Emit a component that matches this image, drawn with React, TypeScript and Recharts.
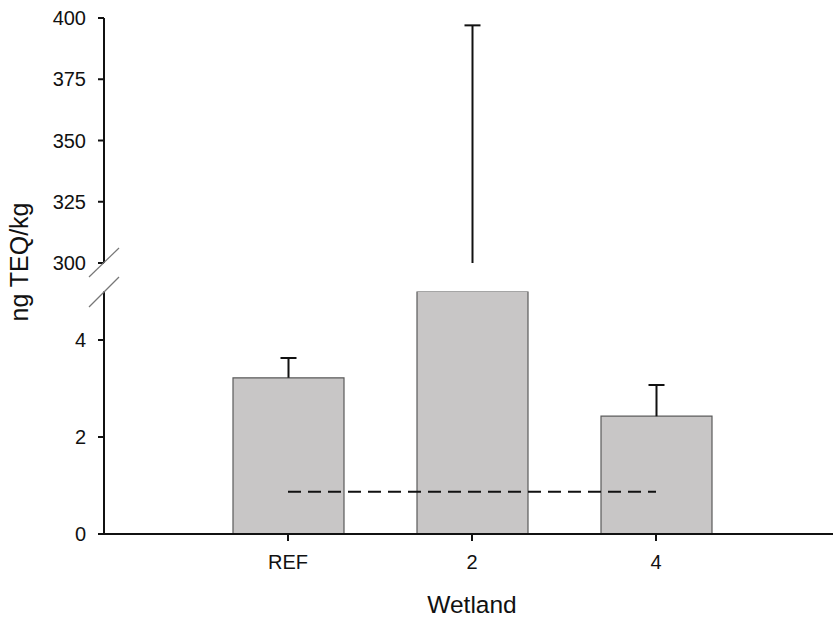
import React from "react";
import { ComposedChart, Bar, XAxis, YAxis, ReferenceLine } from "recharts";

// wetland TEQ means and standard deviations (ng TEQ/kg)
const wetlands = ["REF", "2", "4"];
const teqMean = [3.22, 150, 2.43];
const teqSd = [0.41, 247, 0.64];
const guideline = 0.87;

// broken y axis: lower and upper panels
const lowerDomain = [0, 5];
const upperDomain = [300, 400];
const lowerTicks = [0, 2, 4];
const upperTicks = [300, 325, 350, 375, 400];

const W = 833;
const H = 620;
const font = "'Liberation Sans', Arial, sans-serif";
const ink = "#111";

const data = wetlands.map((name, i) => {
  const top = teqMean[i] + teqSd[i];
  return {
    name,
    mean: teqMean[i],
    lowErr: top <= lowerDomain[1] ? teqSd[i] : null,
    highErr: top > upperDomain[0] ? [Math.max(teqMean[i], upperDomain[0]), top] : null,
  };
});

const Whisker = (props: any) => {
  const { x, y, width, height } = props;
  if (!height || height <= 0 || isNaN(y)) return null;
  const cx = x + width / 2;
  return (
    <g stroke={ink} strokeWidth={2}>
      <line x1={cx} y1={y} x2={cx} y2={y + height} />
      <line x1={cx - 8} y1={y} x2={cx + 8} y2={y} />
    </g>
  );
};

const tickStyle = { fill: ink, fontSize: 20, fontFamily: font };
const lineStyle = { stroke: ink, strokeWidth: 2 };
const xPad = { left: 92, right: 85 };

export default function App() {
  return (
    <div style={{ position: "absolute", left: 0, top: 0, width: W, height: H, background: "#fff", fontFamily: font }}>
      {/* lower panel 0..5 */}
      <div style={{ position: "absolute", left: 0, top: 0 }}>
        <ComposedChart width={W} height={H} data={data} barSize={111} margin={{ top: 291.5, right: 0, bottom: 0, left: 0 }}>
          <XAxis
            dataKey="name"
            padding={xPad}
            height={86}
            tickSize={7}
            tickMargin={14}
            tick={tickStyle}
            axisLine={lineStyle}
            tickLine={lineStyle}
          />
          <YAxis
            domain={lowerDomain}
            ticks={lowerTicks}
            allowDataOverflow
            width={104}
            tickSize={6}
            tickMargin={12}
            tick={tickStyle}
            axisLine={lineStyle}
            tickLine={lineStyle}
          />
          <Bar dataKey="mean" stackId="t" fill="#c8c6c6" stroke="#5a5a5a" strokeWidth={1.2} isAnimationActive={false} />
          <Bar dataKey="lowErr" stackId="t" shape={Whisker} isAnimationActive={false} />
          <ReferenceLine
            segment={[{ x: "REF", y: guideline }, { x: "4", y: guideline }]}
            stroke={ink}
            strokeWidth={2}
            strokeDasharray="13 7"
          />
        </ComposedChart>
      </div>
      {/* upper panel 300..400 */}
      <div style={{ position: "absolute", left: 0, top: 0 }}>
        <ComposedChart width={W} height={280} data={data} barSize={111} margin={{ top: 18, right: 0, bottom: 17, left: 0 }}>
          <XAxis dataKey="name" padding={xPad} hide />
          <YAxis
            domain={upperDomain}
            ticks={upperTicks}
            allowDataOverflow
            width={104}
            tickSize={6}
            tickMargin={12}
            tick={tickStyle}
            axisLine={lineStyle}
            tickLine={lineStyle}
          />
          <Bar dataKey="highErr" shape={Whisker} isAnimationActive={false} />
        </ComposedChart>
      </div>
      {/* axis titles and break marks */}
      <svg width={W} height={H} style={{ position: "absolute", left: 0, top: 0, pointerEvents: "none" }}>
        <line x1={89} y1={277} x2={119} y2={248} stroke="#777" strokeWidth={1.2} />
        <line x1={89} y1={307} x2={119} y2={277} stroke="#777" strokeWidth={1.2} />
        <text x={472} y={613} textAnchor="middle" fontSize={24.5} fontFamily={font} fill={ink}>
          Wetland
        </text>
        <text
          x={0}
          y={0}
          transform="translate(28 262) rotate(-90)"
          textAnchor="middle"
          fontSize={25}
          fontFamily={font}
          fill={ink}
        >
          ng TEQ/kg
        </text>
      </svg>
    </div>
  );
}
